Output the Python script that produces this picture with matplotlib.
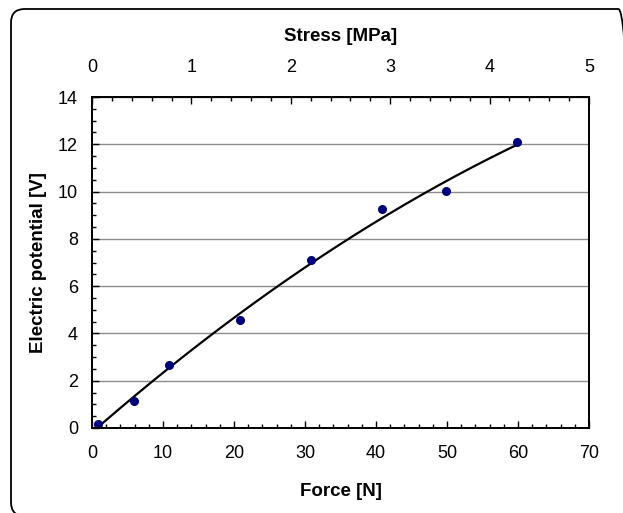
import numpy as np
import matplotlib
matplotlib.use("Agg")
import matplotlib.pyplot as plt
from matplotlib.patches import FancyBboxPatch
from matplotlib.ticker import MultipleLocator

plt.rcParams['font.family'] = ['Liberation Sans', 'DejaVu Sans']

force = [0.8, 5.9, 10.9, 20.85, 30.9, 40.85, 49.8, 59.9]
voltage = [0.15, 1.15, 2.68, 4.57, 7.1, 9.26, 10.03, 12.08]

W, H = 623, 513
fig = plt.figure(figsize=(W/100, H/100), dpi=100)

# rounded frame (clipped at right and bottom)
frame = FancyBboxPatch((11/W, -3/H), (W+9-11)/W, (H-9+3)/H,
                       boxstyle="round,pad=0,rounding_size=0.022",
                       transform=fig.transFigure, fill=False, ec='black', lw=1.3,
                       mutation_aspect=W/H)
fig.patches.append(frame)

ax = fig.add_axes([92/W, (H-428)/H, (589-92)/W, (428-97)/H])

ax.set_xlim(0, 70)
ax.set_ylim(0, 14)
ax.xaxis.set_major_locator(MultipleLocator(10))
ax.xaxis.set_minor_locator(MultipleLocator(2))
ax.yaxis.set_major_locator(MultipleLocator(2))
ax.yaxis.set_minor_locator(MultipleLocator(0.5))

ax.grid(axis='y', which='major', color='#8c8c8c', lw=1.0)
ax.set_axisbelow(True)

# trendline (2nd order polynomial fit of the data)
coef = np.polyfit(force, voltage, 2)
xs = np.linspace(1.2, 60, 200)
ax.plot(xs, np.polyval(coef, xs), color='black', lw=1.6, zorder=3)
ax.plot(force, voltage, 'o', color='#000080', ms=5.5, zorder=4, clip_on=False)

FS = 13
LFS = 13.5
for s in ax.spines.values():
    s.set_linewidth(1.3)
ax.tick_params(which='both', direction='in', labelsize=FS, colors='black')
ax.tick_params(which='major', length=5, width=1)
ax.tick_params(which='minor', length=3, width=1)
ax.tick_params(axis='x', pad=12)
ax.tick_params(axis='y', pad=10)
ax.set_xlabel('Force [N]', fontsize=LFS, fontweight='bold', labelpad=15)
ax.set_ylabel('Electric potential [V]', fontsize=LFS, fontweight='bold', labelpad=8)

ax2 = ax.twiny()
ax2.set_xlim(0, 5)
ax2.xaxis.set_major_locator(MultipleLocator(1))
ax2.xaxis.set_minor_locator(MultipleLocator(0.2))
ax2.tick_params(which='both', direction='in', labelsize=FS, colors='black', pad=15)
ax2.tick_params(which='major', length=5, width=1)
ax2.tick_params(which='minor', length=3, width=1)
ax2.set_xlabel('Stress [MPa]', fontsize=LFS, fontweight='bold', labelpad=13)
for s in ax2.spines.values():
    s.set_linewidth(1.3)

fig.savefig('out.png', dpi=100)
